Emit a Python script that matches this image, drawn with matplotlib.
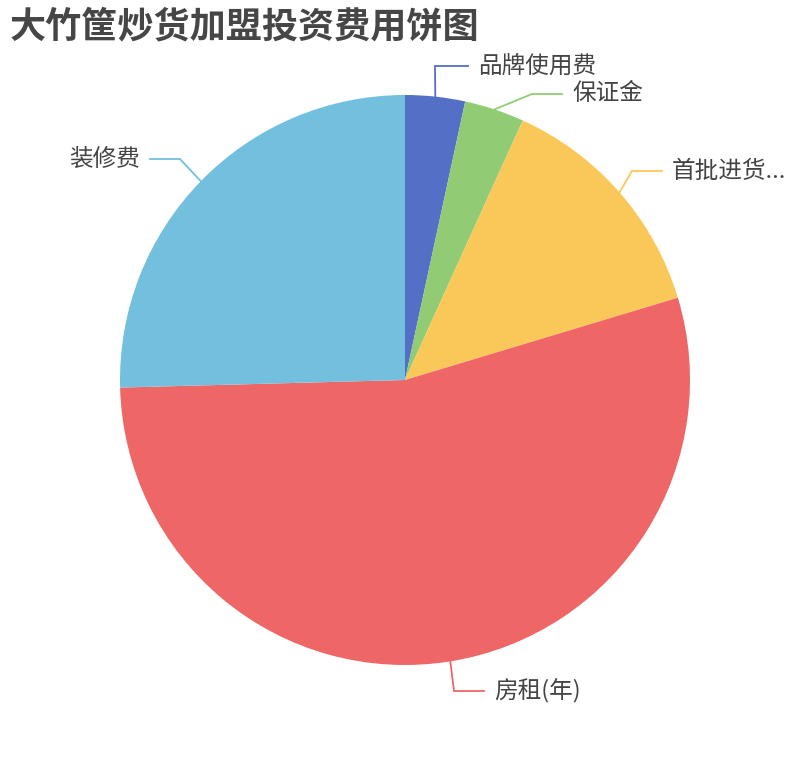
import numpy as np
import matplotlib
matplotlib.use("Agg")
import matplotlib.pyplot as plt

plt.rcParams['font.family'] = ['Noto Sans CJK SC', 'DejaVu Sans']

# ---- data ----
title = "大竹筐炒货加盟投资费用饼图"
categories = ["品牌使用费", "保证金", "首批进货...", "房租(年)", "装修费"]
values = [2, 2, 8, 32, 15]
colors = ["#5470c6", "#91cc75", "#fac858", "#ee6666", "#73c0de"]

# ---- layout (pixel coordinates, y measured from top) ----
W, H = 810, 760
cx, cy, R = 405, 380, 285
# elbow point and horizontal end of each label line
elbows = [(435, 66), (532, 94), (632, 171), (454, 691), (180, 159)]
ends = [(468, 66), (562, 94), (662, 171), (484, 691), (150, 159)]

fig = plt.figure(figsize=(W / 100, H / 100), dpi=100)
ax = fig.add_axes([0, 0, 1, 1])

wedges, _ = ax.pie(values, colors=colors, startangle=90, counterclock=False,
                   center=(cx, H - cy), radius=R,
                   wedgeprops=dict(linewidth=0, antialiased=True))

for w, lab, col, el, en in zip(wedges, categories, colors, elbows, ends):
    mid = np.deg2rad((w.theta1 + w.theta2) / 2)
    sx = cx + R * np.cos(mid)
    sy = (H - cy) + R * np.sin(mid)
    ax.plot([sx, el[0], en[0]], [sy, H - el[1], H - en[1]], color=col, lw=1.3,
            solid_joinstyle='miter', zorder=3)
    if en[0] >= el[0]:
        ax.text(en[0] + 10, H - en[1], lab, ha='left', va='center',
                fontsize=17, color='#444444')
    else:
        ax.text(en[0] - 10, H - en[1], lab, ha='right', va='center',
                fontsize=17, color='#444444')

ax.text(10, H - 27, title, ha='left', va='center', fontsize=26,
        fontweight='bold', color='#464646')

ax.set_xlim(0, W)
ax.set_ylim(0, H)
ax.set_aspect('equal')
ax.axis('off')

fig.savefig("out.png", dpi=100, facecolor='white')
